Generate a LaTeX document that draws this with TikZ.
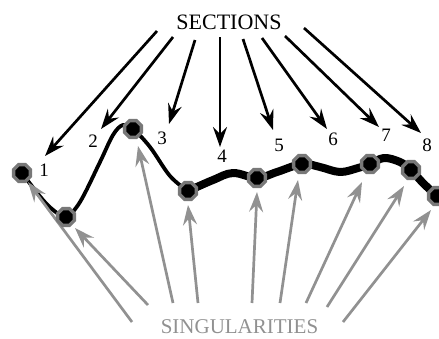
\documentclass[tikz,border=0pt]{standalone}
\usepackage{fontspec}
\setmainfont{Liberation Serif}
\usetikzlibrary{arrows.meta,shapes.geometric}
\definecolor{octgray}{RGB}{120,120,120}
\definecolor{arrgray}{RGB}{145,145,145}
\begin{document}
\begin{tikzpicture}[x=1pt,y=-1pt,
  secarrow/.style={line width=2.7pt,black,-{Stealth[length=20pt,width=14pt,inset=7pt]}},
  singarrow/.style={line width=2.7pt,arrgray,-{Stealth[length=20pt,width=14pt,inset=7pt]}},
  numlbl/.style={font=\fontsize{19}{19}\selectfont,inner sep=0pt},
  sing/.style={regular polygon,regular polygon sides=8,minimum size=18pt,inner sep=0pt,draw=octgray,line width=3.4pt,fill=black},
  thincurve/.style={line width=3.8pt,line cap=round,line join=round},
  thickcurve/.style={line width=8pt,line cap=round,line join=round}]
\useasboundingbox (0,0) rectangle (439,338);
% curve
\draw[thincurve] plot[smooth,tension=0.6] coordinates {(22,173) (43,200) (57,213) (66,217) (80,202) (100,162) (113,135) (123,125) (133,129) (150,147) (170,176) (188,191)};
\draw[thickcurve] plot[smooth,tension=0.6] coordinates {(188,191) (213,180) (233,173) (257,178) (277,172) (302,164) (320,167) (340,172) (358,168) (370,164) (384,158) (400,162) (411,170) (423,183) (438,197)};
% texts
\node[font=\fontsize{22}{22}\selectfont,inner sep=0pt] (sections) at (229,22) {SECTIONS};
\node[font=\fontsize{21}{21}\selectfont,inner sep=0pt,text=arrgray] (singul) at (239.5,326.5) {SINGULARITIES};
% numbers
\node[numlbl] (n1) at (44,170) {1};
\node[numlbl] (n2) at (93,141) {2};
\node[numlbl] (n3) at (162,138) {3};
\node[numlbl] (n4) at (222,156) {4};
\node[numlbl] (n5) at (279,145) {5};
\node[numlbl] (n6) at (333,139) {6};
\node[numlbl] (n7) at (386,135) {7};
\node[numlbl] (n8) at (427,145) {8};
% section arrow endpoints
\coordinate (s1) at (157,31);  \coordinate (t1) at (45,156);
\coordinate (s2) at (173,37);  \coordinate (t2) at (101,129);
\coordinate (s3) at (195,40);  \coordinate (t3) at (169,124);
\coordinate (s4) at (220,37);  \coordinate (t4) at (220,147);
\coordinate (s5) at (243,39);  \coordinate (t5) at (273,130);
\coordinate (s6) at (262,38);  \coordinate (t6) at (327,129);
\coordinate (s7) at (285,36);  \coordinate (t7) at (379,127);
\coordinate (s8) at (304,28);  \coordinate (t8) at (421,133);
\foreach \i in {1,...,8} \draw[secarrow] (s\i) -- (t\i);
% singularity arrow endpoints
\coordinate (g1) at (132,322); \coordinate (u1) at (28,182);
\coordinate (g2) at (148,305); \coordinate (u2) at (75,228);
\coordinate (g3) at (173,303); \coordinate (u3) at (138,146);
\coordinate (g4) at (198,303); \coordinate (u4) at (188,205);
\coordinate (g5) at (252,303); \coordinate (u5) at (257,192);
\coordinate (g6) at (280,303); \coordinate (u6) at (298,180);
\coordinate (g7) at (306,303); \coordinate (u7) at (362,182);
\coordinate (g8) at (327,307); \coordinate (u8) at (404,186);
\coordinate (g9) at (343,322); \coordinate (u9) at (431,210);
\foreach \i in {1,...,9} \draw[singarrow] (g\i) -- (u\i);
% singular points
\node[sing] (p1) at (22,173) {};
\node[sing] (p2) at (66,217) {};
\node[sing] (p3) at (133,129) {};
\node[sing] (p4) at (188,191) {};
\node[sing] (p5) at (257,178) {};
\node[sing] (p6) at (302,164) {};
\node[sing] (p7) at (370,164) {};
\node[sing] (p8) at (411,170) {};
\node[sing] (p9) at (437,196) {};
\end{tikzpicture}
\end{document}
